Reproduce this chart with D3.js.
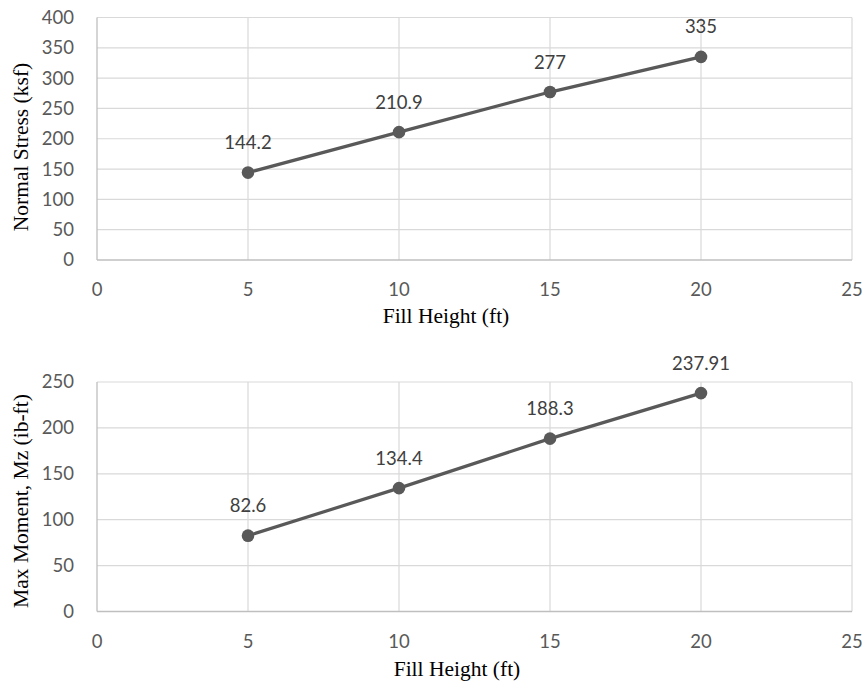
<!DOCTYPE html>
<html>
<head>
<meta charset="utf-8">
<script src="https://cdn.jsdelivr.net/npm/d3@7"></script>
<style>
  html, body { margin: 0; padding: 0; background: #fff; }
  svg { display: block; }
  .tick-label { font-family: Lato, "Open Sans", sans-serif; font-size: 18.5px; fill: #595959; }
  .data-label { font-family: Lato, "Open Sans", sans-serif; font-size: 18.5px; fill: #404040; }
  .axis-title { font-family: "Liberation Serif", "Times New Roman", serif; font-size: 21.5px; fill: #000; }
</style>
</head>
<body>
<svg id="chart" width="866" height="681"></svg>
<script>
// Fill heights shared by both panels
const fillHeights = [5, 10, 15, 20];

// Panel 1: normal stress (ksf)
const normalStress = [144.2, 210.9, 277, 335];
const stressLabels = ["144.2", "210.9", "277", "335"];
const stressTicks = [0, 50, 100, 150, 200, 250, 300, 350, 400];

// Panel 2: max moment Mz (ib-ft)
const maxMoment = [82.6, 134.4, 188.3, 237.91];
const momentLabels = ["82.6", "134.4", "188.3", "237.91"];
const momentTicks = [0, 50, 100, 150, 200, 250];

// Shared x ticks
const xTicks = [0, 5, 10, 15, 20, 25];
const xTitle = "Fill Height (ft)";

const svg = d3.select("#chart");

function drawPanel(cfg) {
  const x = d3.scaleLinear().domain([0, 25]).range([cfg.left, cfg.right]);
  const y = d3.scaleLinear().domain([0, cfg.yMax]).range([cfg.bottom, cfg.top]);
  const g = svg.append("g");

  // horizontal gridlines
  g.selectAll("line.hgrid").data(cfg.yTicks.filter(d => d !== 0)).join("line")
    .attr("x1", cfg.left).attr("x2", cfg.right)
    .attr("y1", d => y(d)).attr("y2", d => y(d))
    .attr("stroke", "#d9d9d9").attr("stroke-width", 1.2);

  // vertical gridlines
  g.selectAll("line.vgrid").data(xTicks.filter(d => d !== 0)).join("line")
    .attr("x1", d => x(d)).attr("x2", d => x(d))
    .attr("y1", cfg.top).attr("y2", cfg.bottom)
    .attr("stroke", "#d9d9d9").attr("stroke-width", 1.2);

  // axis lines
  g.append("line").attr("x1", cfg.left).attr("x2", cfg.right)
    .attr("y1", cfg.bottom).attr("y2", cfg.bottom)
    .attr("stroke", "#bfbfbf").attr("stroke-width", 1.3);
  g.append("line").attr("x1", cfg.left).attr("x2", cfg.left)
    .attr("y1", cfg.top).attr("y2", cfg.bottom)
    .attr("stroke", "#bfbfbf").attr("stroke-width", 1.3);

  // y tick labels
  g.selectAll("text.ytick").data(cfg.yTicks).join("text")
    .attr("class", "tick-label")
    .attr("x", cfg.left - 23).attr("y", d => y(d))
    .attr("dy", "0.35em").attr("text-anchor", "end")
    .text(d => d);

  // x tick labels
  g.selectAll("text.xtick").data(xTicks).join("text")
    .attr("class", "tick-label")
    .attr("x", d => x(d)).attr("y", cfg.bottom + 30)
    .attr("dy", "0.35em").attr("text-anchor", "middle")
    .text(d => d);

  // series line
  const pts = fillHeights.map((h, i) => [h, cfg.values[i]]);
  g.append("path").datum(pts)
    .attr("fill", "none").attr("stroke", "#595959").attr("stroke-width", 3.2)
    .attr("stroke-linejoin", "round")
    .attr("d", d3.line().x(d => x(d[0])).y(d => y(d[1])));

  // markers
  g.selectAll("circle").data(pts).join("circle")
    .attr("cx", d => x(d[0])).attr("cy", d => y(d[1])).attr("r", 6.3)
    .attr("fill", "#595959");

  // data labels
  g.selectAll("text.dlabel").data(pts).join("text")
    .attr("class", "data-label")
    .attr("x", d => x(d[0])).attr("y", d => y(d[1]) - 30)
    .attr("dy", "0.35em").attr("text-anchor", "middle")
    .text((d, i) => cfg.labels[i]);

  // axis titles
  g.append("text").attr("class", "axis-title")
    .attr("x", cfg.xTitleX).attr("y", cfg.xTitleY)
    .attr("text-anchor", "middle").text(xTitle);
  g.append("text").attr("class", "axis-title")
    .attr("transform", `translate(${cfg.yTitleX},${cfg.yTitleY}) rotate(-90)`)
    .attr("text-anchor", "middle").text(cfg.yTitle);
}

drawPanel({
  left: 97, right: 852, top: 17.5, bottom: 260,
  yMax: 400, yTicks: stressTicks, values: normalStress, labels: stressLabels,
  yTitle: "Normal Stress (ksf)", yTitleX: 28, yTitleY: 147,
  xTitleX: 446, xTitleY: 323
});

drawPanel({
  left: 97, right: 852, top: 382, bottom: 611.5,
  yMax: 250, yTicks: momentTicks, values: maxMoment, labels: momentLabels,
  yTitle: "Max Moment, Mz (ib-ft)", yTitleX: 28, yTitleY: 501,
  xTitleX: 457, xTitleY: 676
});
</script>
</body>
</html>
